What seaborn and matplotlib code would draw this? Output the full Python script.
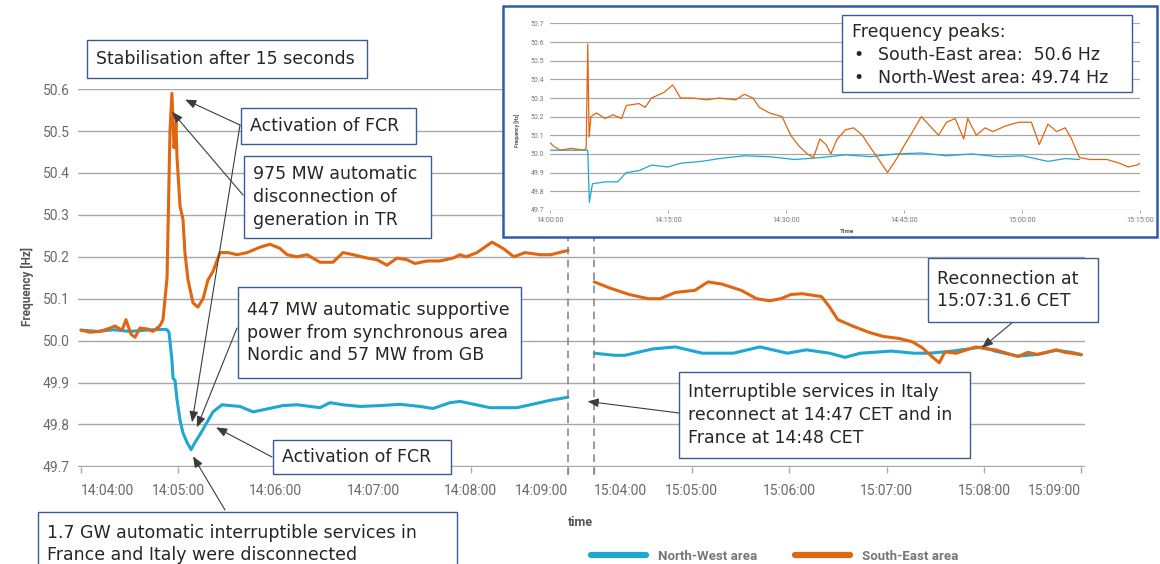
import numpy as np
import seaborn as sns
import matplotlib
matplotlib.use("Agg")
import matplotlib.pyplot as plt
from matplotlib.patches import Rectangle
from matplotlib.lines import Line2D

# ---------------- data ----------------
# left part: seconds after 14:04:00
nw_left_t = [0, 10, 20, 30, 40, 50, 53, 54.2, 56, 56.7, 57.9, 59.1, 61, 62.8, 65.3, 67.8, 70.2,
             73.3, 77.6, 81.3, 86.9, 91.8, 97.9, 106, 114.6, 124.4, 133, 141.1, 147.2, 153.4,
             161.4, 171.9, 184.2, 196.5, 208.8, 216.8, 227.3, 233.5, 252, 268.6, 280.3, 289.5, 300]
nw_left_f = [50.025, 50.022, 50.026, 50.022, 50.025, 50.027, 50.026, 50.02, 49.954, 49.91, 49.905,
             49.86, 49.81, 49.78, 49.757, 49.74, 49.757, 49.776, 49.805, 49.83, 49.847, 49.845,
             49.843, 49.83, 49.837, 49.845, 49.847, 49.843, 49.84, 49.852, 49.847, 49.843, 49.845,
             49.848, 49.843, 49.838, 49.852, 49.855, 49.84, 49.84, 49.85, 49.858, 49.865]

se_left_t = [0, 5.5, 11.7, 17.9, 20.9, 25.3, 27.7, 30.8, 33.3, 36.3, 40.7, 44.4, 48.7, 50.5, 53,
             54.8, 56, 57.3, 58.5, 59.1, 61, 62.8, 64, 65.9, 69, 72, 75.2, 78.2, 81.3, 85.6, 90.6,
             96.1, 102.3, 110.3, 116.4, 122.6, 126.9, 133, 139.2, 147.2, 155.2, 161.4, 167.6,
             176.2, 182.3, 188.5, 194.7, 200.8, 205.7, 213.1, 221.1, 229.2, 233.5, 237.2, 243.9,
             253.2, 260, 266.7, 273.5, 282.7, 289.5, 294.4, 300]
se_left_f = [50.025, 50.02, 50.022, 50.03, 50.035, 50.025, 50.05, 50.015, 50.008, 50.03, 50.028,
             50.022, 50.036, 50.05, 50.15, 50.50, 50.59, 50.46, 50.52, 50.44, 50.32, 50.29, 50.21,
             50.145, 50.09, 50.08, 50.10, 50.145, 50.165, 50.21, 50.21, 50.205, 50.21, 50.223,
             50.23, 50.22, 50.205, 50.20, 50.205, 50.187, 50.187, 50.21, 50.205, 50.197, 50.193,
             50.18, 50.197, 50.193, 50.184, 50.19, 50.19, 50.197, 50.205, 50.20, 50.21, 50.235,
             50.22, 50.20, 50.21, 50.205, 50.205, 50.21, 50.215]

# right part: seconds after 15:04:00
nw_right_t = [0, 12.3, 19, 35.7, 50, 66.5, 85.6, 102, 118.9, 130.6, 145, 154.4, 163.9, 182.9, 197,
              206.4, 220.5, 230, 239.5, 246.8, 261, 273, 284.6, 294, 300]
nw_right_f = [49.97, 49.965, 49.965, 49.98, 49.985, 49.97, 49.97, 49.985, 49.97, 49.978, 49.97,
              49.96, 49.97, 49.975, 49.97, 49.97, 49.975, 49.98, 49.985, 49.975, 49.963, 49.967,
              49.977, 49.972, 49.967]

se_right_t = [0, 9.9, 21.6, 33.3, 40.6, 50, 62, 70, 78.5, 90.5, 100, 108, 115, 121, 128, 140, 145,
              150, 159, 169, 178, 188, 196, 202, 208, 212.5, 216, 223, 231, 235, 242, 247, 254, 261,
              267, 273, 284.6, 290, 294, 300]
se_right_f = [50.14, 50.125, 50.11, 50.10, 50.10, 50.115, 50.12, 50.14, 50.135, 50.12, 50.10, 50.095,
              50.10, 50.11, 50.112, 50.105, 50.08, 50.05, 50.035, 50.02, 50.01, 50.005, 49.997,
              49.983, 49.962, 49.947, 49.973, 49.97, 49.98, 49.985, 49.98, 49.978, 49.97, 49.962,
              49.972, 49.967, 49.978, 49.972, 49.97, 49.966]

left_ticks = ["14:04:00", "14:05:00", "14:06:00", "14:07:00", "14:08:00", "14:09:00"]
right_ticks = ["15:04:00", "15:05:00", "15:06:00", "15:07:00", "15:08:00", "15:09:00"]

# inset: minutes after 14:00:00
se_inset_m = [0, 0.5, 1.3, 2.7, 4.3, 4.6, 4.8, 4.97, 5.2, 5.9, 7.0, 8.0, 9.1, 9.7, 11.3, 12.1, 12.9,
              14.5, 15.6, 16.6, 18.2, 19.9, 21.5, 23.6, 24.7, 25.8, 26.6, 27.9, 29.5, 30.6, 31.7,
              32.7, 33.5, 34.3, 35.1, 35.7, 36.5, 37.6, 38.6, 39.7, 40.8, 41.8, 42.9, 44.0, 45.1,
              46.1, 47.2, 48.3, 49.4, 50.4, 51.5, 52.6, 53.1, 54.2, 55.3, 56.3, 57.9, 59.6, 61.2,
              62.2, 63.3, 64.4, 65.5, 66.3, 67.3, 68.7, 70.8, 72.4, 73.5, 74.6, 75]
se_inset_f = [50.06, 50.04, 50.02, 50.03, 50.02, 50.03, 50.59, 50.09, 50.2, 50.22, 50.19, 50.21,
              50.19, 50.26, 50.27, 50.25, 50.30, 50.33, 50.37, 50.30, 50.30, 50.29, 50.30, 50.29,
              50.32, 50.30, 50.25, 50.22, 50.20, 50.10, 50.04, 50.0, 49.98, 50.08, 50.05, 50.0,
              50.08, 50.13, 50.14, 50.10, 50.03, 49.97, 49.90, 49.97, 50.05, 50.12, 50.2, 50.15,
              50.10, 50.17, 50.19, 50.08, 50.19, 50.10, 50.14, 50.12, 50.15, 50.17, 50.17, 50.05,
              50.16, 50.12, 50.14, 50.08, 49.98, 49.97, 49.97, 49.95, 49.93, 49.94, 49.95]
nw_inset_m = [0, 4.7, 4.8, 5.0, 5.4, 7.0, 8.6, 9.7, 11.3, 12.9, 15.0, 16.6, 19.3, 21.5, 24.7, 27.9,
              31.1, 34.3, 37.6, 40.8, 44.0, 47.2, 50.4, 53.6, 56.9, 60.1, 62.2, 63.3, 65.5, 67.3]
nw_inset_f = [50.02, 50.02, 50.02, 49.74, 49.84, 49.85, 49.85, 49.90, 49.91, 49.94, 49.93, 49.95,
              49.96, 49.975, 49.99, 49.985, 49.97, 49.98, 49.995, 49.985, 50.0, 50.005, 49.99,
              50.0, 49.985, 49.99, 49.97, 49.96, 49.975, 49.97]
inset_ticks = ["14:00:00", "14:15:00", "14:30:00", "14:45:00", "15:00:00", "15:15:00"]

# ---------------- style ----------------
sns.set_style("white")
plt.rcParams["font.family"] = ["Roboto", "DejaVu Sans"]
NOTE_FONT = ["DejaVu Sans"]
NOTE_SIZE = 12.5
BLUE = "#1fa6d1"
ORANGE = "#e0660f"
BOX_EDGE = "#3a5a96"
GRID = "#a8a8a8"
TICK_COL = "#6a6a6a"

W, H = 1160, 564
RIGHT_OFFSET = 5.27  # gap between the two time windows, in minutes

fig = plt.figure(figsize=(W / 100, H / 100), dpi=100)


def fx(x):
    return x / W


def fy(y):
    return 1 - y / H


# ---------------- main chart ----------------
ax = fig.add_axes([fx(78), fy(467), (1085 - 78) / W, (467 - 88.5) / H])
sns.lineplot(x=np.array(nw_left_t) / 60, y=nw_left_f, ax=ax, color=BLUE, lw=2.2, errorbar=None)
sns.lineplot(x=RIGHT_OFFSET + np.array(nw_right_t) / 60, y=nw_right_f, ax=ax, color=BLUE, lw=2.2,
             errorbar=None)
sns.lineplot(x=np.array(se_left_t) / 60, y=se_left_f, ax=ax, color=ORANGE, lw=2.2, errorbar=None)
sns.lineplot(x=RIGHT_OFFSET + np.array(se_right_t) / 60, y=se_right_f, ax=ax, color=ORANGE, lw=2.2,
             errorbar=None)

ax.set_xlim(-0.031, 10.308)
ax.set_ylim(49.6985, 50.6015)
ax.set_yticks(np.round(np.arange(49.7, 50.61, 0.1), 1))
ax.set_yticklabels([f"{v:.1f}" for v in np.arange(49.7, 50.61, 0.1)])
xt = list(range(6)) + [RIGHT_OFFSET + i for i in range(6)]
ax.set_xticks(xt)
ax.set_xticklabels(left_ticks + right_ticks)
ax.grid(axis="y", color=GRID, lw=1.0)
ax.grid(axis="x", visible=False)
for s in ax.spines.values():
    s.set_visible(False)
ax.tick_params(axis="y", length=0, pad=6, labelsize=10, labelcolor=TICK_COL)
ax.tick_params(axis="x", bottom=True, length=4, width=1, color=GRID, pad=8, labelsize=10,
               labelcolor=TICK_COL)
lbls = ax.get_xticklabels()
lbls[0].set_ha("left")
lbls[5].set_ha("right")
lbls[6].set_ha("left")
lbls[11].set_ha("right")
ax.set_xlabel("")
ax.set_ylabel("")

# break markers
for xv in (5, RIGHT_OFFSET):
    ax.axvline(xv, ymin=-0.022, ymax=1, color="#808080", lw=1.1, ls=(0, (5, 3.5)), clip_on=False)

fig.text(fx(27.5), fy(286), "Frequency [Hz]", rotation=90, ha="center", va="center",
         fontsize=8.5, fontweight="bold", color="#555555")
fig.text(fx(580), fy(522), "time", ha="center", va="center", fontsize=9, fontweight="bold",
         color="#555555")

leg = fig.legend(handles=[Line2D([], [], color=BLUE, lw=4.5), Line2D([], [], color=ORANGE, lw=4.5)],
                 labels=["North-West area", "South-East area"], loc="center left",
                 bbox_to_anchor=(fx(591), fy(556)), ncol=2, frameon=False, borderpad=0,
                 borderaxespad=0, handlelength=4.15, handletextpad=0.9, columnspacing=2.9,
                 prop={"size": 9.5, "weight": "bold"})
for t in leg.get_texts():
    t.set_color("#777777")


# ---------------- notes ----------------
def note(x0, y0, x1, y1, text, ty=None, z=5):
    fig.add_artist(Rectangle((fx(x0), fy(y1)), (x1 - x0) / W, (y1 - y0) / H,
                             transform=fig.transFigure, facecolor="white", edgecolor=BOX_EDGE,
                             lw=1.0, zorder=z))
    fig.text(fx(x0 + 9), fy((y0 + y1) / 2 if ty is None else ty), text, ha="left", va="center",
             fontsize=NOTE_SIZE, family=NOTE_FONT, color="#262626", linespacing=1.35,
             zorder=z + 0.1)


def arrow(target, start):
    ax.annotate("", xy=target, xycoords="data", xytext=(start[0], H - start[1]),
                textcoords="figure pixels", annotation_clip=False,
                arrowprops=dict(arrowstyle="-|>,head_length=0.55,head_width=0.22", color="#3c3c3c",
                                lw=0.8, shrinkA=0, shrinkB=0, mutation_scale=12))


arrow((1.068, 50.575), (240, 125))
arrow((1.14, 49.805), (240, 125))
arrow((0.934, 50.546), (243, 195))
arrow((1.19, 49.793), (237, 328))
arrow((1.386, 49.793), (272, 457))
arrow((1.15, 49.724), (225, 510))
arrow((5.2, 49.855), (679, 413))
arrow((9.25, 49.983), (1013, 322))

note(87, 40, 367, 78, "Stabilisation after 15 seconds")
note(241, 108, 416, 144, "Activation of FCR")
note(244, 156, 431, 238, "975 MW automatic\ndisconnection of\ngeneration in TR")
note(238, 287, 521, 378, "447 MW automatic supportive\npower from synchronous area\nNordic and 57 MW from GB")
note(273, 440, 451, 474, "Activation of FCR")
note(38, 512, 457, 600, "1.7 GW automatic interruptible services in\nFrance and Italy were disconnected",
     ty=544)
note(679, 372, 970, 458, "Interruptible services in Italy\nreconnect at 14:47 CET and in\nFrance at 14:48 CET")
note(928, 258, 1098, 322, "Reconnection at\n15:07:31.6 CET")

# ---------------- inset ----------------
fig.add_artist(Rectangle((fx(503), fy(237)), 654 / W, 231 / H, transform=fig.transFigure,
                         facecolor="white", edgecolor="#2e5aa8", lw=1.8, zorder=2))
axi = fig.add_axes([fx(550), fy(210), 590 / W, (210 - 23.3) / H], zorder=3)
axi.set_facecolor("none")
sns.lineplot(x=nw_inset_m, y=nw_inset_f, ax=axi, color=BLUE, lw=0.9, errorbar=None)
sns.lineplot(x=se_inset_m, y=se_inset_f, ax=axi, color=ORANGE, lw=0.9, errorbar=None)
axi.set_xlim(0, 75)
axi.set_ylim(49.699, 50.701)
axi.set_yticks(np.round(np.arange(49.7, 50.71, 0.1), 1))
axi.set_yticklabels([f"{v:.1f}" for v in np.arange(49.7, 50.71, 0.1)])
axi.set_xticks(range(0, 76, 15))
axi.set_xticklabels(inset_ticks)
axi.grid(axis="y", color=GRID, lw=0.9)
axi.grid(axis="x", visible=False)
for s in axi.spines.values():
    s.set_visible(False)
axi.tick_params(axis="y", length=0, pad=4, labelsize=5, labelcolor="#777777")
axi.tick_params(axis="x", bottom=True, length=2, width=0.7, color=GRID, pad=3, labelsize=5.2,
                labelcolor="#777777")
axi.set_xlabel("")
axi.set_ylabel("")
fig.text(fx(517), fy(130), "Frequency [Hz]", rotation=90, ha="center", va="center", fontsize=3.6,
         fontweight="bold", color="#555555", zorder=4)
fig.text(fx(847), fy(232), "Time", ha="center", va="center", fontsize=4.5, fontweight="bold",
         color="#555555", zorder=4)

fig.add_artist(Rectangle((fx(842), fy(92)), (1132 - 842) / W, (92 - 15) / H,
                         transform=fig.transFigure, facecolor="white", edgecolor=BOX_EDGE, lw=1.0,
                         zorder=6))
fig.text(fx(852), fy(32), "Frequency peaks:", ha="left", va="center", fontsize=NOTE_SIZE,
         family=NOTE_FONT, color="#262626", zorder=7)
for yy, txt in ((55, "South-East area:  50.6 Hz"), (78, "North-West area: 49.74 Hz")):
    fig.text(fx(853), fy(yy), "\u2022", ha="left", va="center", fontsize=NOTE_SIZE,
             family=NOTE_FONT, color="#262626", zorder=7)
    fig.text(fx(878), fy(yy), txt, ha="left", va="center", fontsize=NOTE_SIZE, family=NOTE_FONT,
             color="#262626", zorder=7)

fig.savefig("out.png", dpi=100)
